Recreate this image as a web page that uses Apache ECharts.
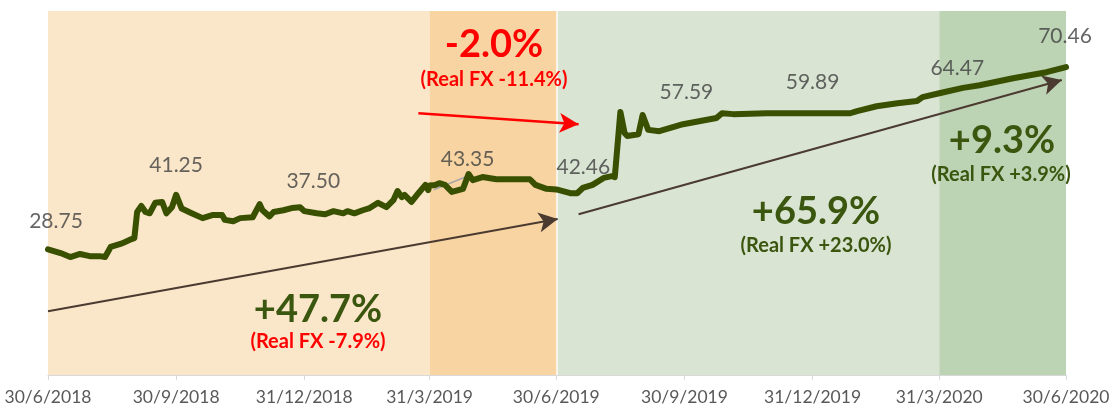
<!DOCTYPE html>
<html>
<head>
<meta charset="utf-8">
<script src="https://cdn.jsdelivr.net/npm/echarts@6/dist/echarts.min.js"></script>
<style>
  html, body { margin: 0; padding: 0; background: #ffffff; }
  #chart { width: 1109px; height: 409px; }
</style>
</head>
<body>
<div id="chart"></div>
<script>
// 汇率走势 数据（从图上读出来的点）
var dates = [
  '2018-06-30','2018-07-09','2018-07-16','2018-07-23','2018-07-30','2018-08-06','2018-08-10','2018-08-14',
  '2018-08-21','2018-08-24','2018-08-29','2018-08-31','2018-09-02','2018-09-05','2018-09-08','2018-09-11',
  '2018-09-15','2018-09-20','2018-09-23','2018-09-27','2018-09-30','2018-10-04','2018-10-10','2018-10-19',
  '2018-10-26','2018-11-02','2018-11-04','2018-11-10','2018-11-15','2018-11-24','2018-11-29','2018-12-01',
  '2018-12-06','2018-12-09','2018-12-16','2018-12-22','2018-12-28','2018-12-31','2019-01-09','2019-01-15',
  '2019-01-21','2019-01-28','2019-01-31','2019-02-05','2019-02-11','2019-02-16','2019-02-22','2019-02-28',
  '2019-03-05','2019-03-08','2019-03-11','2019-03-13','2019-03-18','2019-03-23','2019-03-28','2019-03-30',
  '2019-03-31','2019-04-04','2019-04-07','2019-04-11','2019-04-16','2019-04-24','2019-04-28','2019-05-01',
  '2019-05-08','2019-05-18','2019-05-28','2019-06-11','2019-06-15','2019-06-23','2019-06-30','2019-07-10',
  '2019-07-15','2019-07-19','2019-07-26','2019-08-03','2019-08-09','2019-08-11','2019-08-15','2019-08-18',
  '2019-08-20','2019-08-28','2019-08-31','2019-09-04','2019-09-12','2019-09-29','2019-09-30','2019-10-23',
  '2019-10-27','2019-11-04','2019-11-28','2019-12-31','2020-01-27','2020-02-01','2020-02-15','2020-03-01',
  '2020-03-15','2020-03-19','2020-03-31','2020-04-17','2020-04-29','2020-05-23','2020-06-16','2020-06-30'
];
var prices = [
  28.75, 27.9, 27.0, 27.7, 27.2, 27.2, 27.0, 29.3,
  30.0, 30.4, 31.1, 31.3, 37.3, 38.7, 37.3, 37.0,
  39.4, 39.6, 37.0, 38.4, 41.25, 38.1, 37.2, 35.9,
  36.6, 36.6, 35.5, 35.2, 35.9, 36.1, 39.1, 37.7,
  36.3, 37.3, 37.7, 38.2, 38.4, 37.50, 37.0, 36.8,
  37.5, 37.0, 37.5, 37.0, 37.7, 38.2, 39.4, 38.4,
  40.0, 42.1, 40.7, 41.2, 39.6, 41.6, 43.5, 42.3,
  43.35, 43.5, 43.9, 43.5, 41.9, 42.6, 46.0, 44.6,
  45.3, 44.8, 44.8, 44.8, 43.5, 42.6, 42.46, 41.6,
  41.6, 42.8, 43.5, 45.1, 45.5, 45.3, 60.2, 55.4,
  54.7, 55.1, 59.5, 56.1, 55.8, 57.4, 57.59, 58.8,
  59.9, 59.7, 59.9, 59.89, 59.9, 60.4, 61.5, 62.2,
  62.7, 63.6, 64.47, 65.7, 66.3, 67.9, 69.3, 70.46
];

// 季度末的数值标注
var labelDates  = ['2018-06-30','2018-09-30','2018-12-31','2019-03-31','2019-06-30','2019-09-30','2019-12-31','2020-03-31','2020-06-30'];
var labelValues = [28.75, 41.25, 37.50, 43.35, 42.46, 57.59, 59.89, 64.47, 70.46];
var labelTexts  = ['28.75','41.25','37.50','43.35','42.46','57.59','59.89','64.47','70.46'];
// 标注相对点的偏移 (像素)
var labelOffsets = [[8,-28],[0,-30],[9,-30],[38,-26],[27,-22],[2,-31],[0,-31],[18,-25],[-1,-31]];

// x轴刻度
var tickDates  = ['2018-06-30','2018-09-30','2018-12-31','2019-03-31','2019-06-30','2019-09-30','2019-12-31','2020-03-31','2020-06-30'];
var tickLabels = ['30/6/2018','30/9/2018','31/12/2018','31/3/2019','30/6/2019','30/9/2019','31/12/2019','31/3/2020','30/6/2020'];

// 背景分段
var bandStarts = ['2018-06-30','2019-03-31','2019-07-01','2020-03-31'];
var bandEnds   = ['2019-03-31','2019-06-30','2020-03-31','2020-06-30'];
var bandColors = ['#FAE6C9','#F8D4A2','#D9E4D3','#BCD3B4'];

// 箭头 [起点日期, 起点值, 终点日期, 终点值]
var arrowBrown1 = ['2018-06-30', 14.6, '2019-07-01', 35.7];
var arrowBrown2 = ['2019-07-16', 36.8, '2020-06-27', 67.5];
var arrowRed    = ['2019-03-23', 59.9, '2019-07-16', 57.4];
var leader4335  = ['2019-04-03', 42.4, '2019-04-28', 45.6];

//日期字符串 -> 时间戳
function toTime(s)
{
    var p = s.split('-');
    return Date.UTC(+p[0], +p[1] - 1, +p[2]);
}

var tickTimes = tickDates.map(toTime);

var lineData = [];
for (var i = 0; i < dates.length; i++)
{
    lineData.push([toTime(dates[i]), prices[i]]);
}

var labelData = [];
for (var i = 0; i < labelDates.length; i++)
{
    labelData.push({
        value: [toTime(labelDates[i]), labelValues[i]],
        label: { offset: labelOffsets[i], formatter: labelTexts[i] }
    });
}

var bandData = [];
for (var i = 0; i < bandStarts.length; i++)
{
    bandData.push([
        { xAxis: toTime(bandStarts[i]), itemStyle: { color: bandColors[i] } },
        { xAxis: toTime(bandEnds[i]) }
    ]);
}

function arrowPair(a, color, width)
{
    return [
        { coord: [toTime(a[0]), a[1]], lineStyle: { color: color, width: width, type: 'solid' }, itemStyle: { color: color } },
        { coord: [toTime(a[2]), a[3]] }
    ];
}

//注释文字
function note(x, y, text, color, size)
{
    return {
        type: 'text', x: x, y: y, z: 100, silent: true,
        style: {
            text: text, fill: color, fontFamily: 'Lato', fontWeight: 'bold', fontSize: size,
            align: 'center', verticalAlign: 'middle'
        }
    };
}

var myChart = echarts.init(document.getElementById('chart'));

var textFont = 'Lato';
var greenText = '#3A560F';

var option = {
    animation: false,
    backgroundColor: '#ffffff',
    grid: { left: 48, right: 43, top: 11, bottom: 34, outerBoundsMode: 'none', containLabel: false },
    xAxis: {
        type: 'value',
        min: toTime('2018-06-30'),
        max: toTime('2020-06-30'),
        splitLine: { show: false },
        axisLine: { show: true, lineStyle: { color: '#D9D9D9', width: 1 } },
        axisTick: { show: true, customValues: tickTimes, length: 5, lineStyle: { color: '#D9D9D9' } },
        axisLabel: {
            customValues: tickTimes,
            margin: 13,
            color: '#595959',
            fontFamily: textFont,
            fontSize: 17.5,
            formatter: function (val)
            {
                var k = tickTimes.indexOf(val);
                return k >= 0 ? tickLabels[k] : '';
            }
        }
    },
    yAxis: {
        type: 'value',
        min: 0,
        max: 83.3,
        show: false,
        splitLine: { show: false }
    },
    series: [
        {
            // 背景色块
            name: 'bands',
            type: 'line',
            data: [],
            z: 0,
            silent: true,
            markArea: { silent: true, data: bandData }
        },
        {
            name: 'arrows',
            type: 'line',
            data: [],
            z: 2,
            silent: true,
            markLine: {
                silent: true,
                symbol: ['none', 'arrow'],
                symbolSize: [15, 19],
                label: { show: false },
                data: [
                    arrowPair(arrowBrown1, '#4B3A30', 2),
                    arrowPair(arrowBrown2, '#4B3A30', 2),
                    arrowPair(arrowRed, '#FF0000', 2.5)
                ]
            }
        },
        {
            name: 'leader',
            type: 'line',
            data: [],
            z: 2,
            silent: true,
            markLine: {
                silent: true,
                symbol: ['none', 'none'],
                label: { show: false },
                lineStyle: { color: '#A6A6A6', width: 1.5, type: 'solid' },
                data: [
                    [ { coord: [toTime(leader4335[0]), leader4335[1]] }, { coord: [toTime(leader4335[2]), leader4335[3]] } ]
                ]
            }
        },
        {
            name: 'FX',
            type: 'line',
            data: lineData,
            z: 5,
            showSymbol: false,
            symbol: 'none',
            lineStyle: { color: '#385000', width: 6, join: 'round', cap: 'round' }
        },
        {
            name: 'labels',
            type: 'scatter',
            data: labelData,
            z: 6,
            symbolSize: 0,
            silent: true,
            label: {
                show: true,
                position: 'inside',
                align: 'center',
                verticalAlign: 'middle',
                color: '#404040',
                fontFamily: textFont,
                fontSize: 21
            }
        }
    ],
    graphic: [
        note(494, 45, '-2.0%', '#FF0000', 38),
        note(494, 80, '(Real FX -11.4%)', '#FF0000', 20),
        note(318, 310, '+47.7%', greenText, 38),
        note(318, 342, '(Real FX -7.9%)', '#FF0000', 20),
        note(816, 212, '+65.9%', greenText, 38),
        note(816, 246, '(Real FX +23.0%)', greenText, 20),
        note(1002, 141, '+9.3%', greenText, 38),
        note(1001, 175, '(Real FX +3.9%)', greenText, 20)
    ]
};

myChart.setOption(option);
</script>
</body>
</html>
